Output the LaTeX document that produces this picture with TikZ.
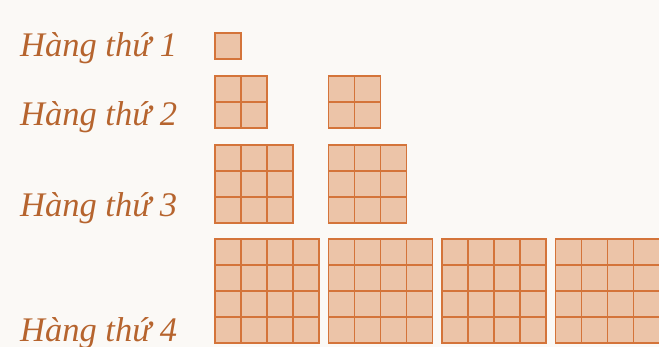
\documentclass[tikz,border=0pt]{standalone}
\usepackage{fontspec}
\setmainfont{Liberation Serif}
\usepackage{xcolor}
\usetikzlibrary{positioning}
\definecolor{labelbrown}{HTML}{B6642E}
\definecolor{tilefill}{HTML}{ECC4A8}
\definecolor{tileline}{HTML}{D4743A}
\definecolor{paperwhite}{HTML}{FBF9F6}

\begin{document}
\begin{tikzpicture}[x=1pt, y=1pt,
  rowlabel/.style={anchor=base west, inner sep=0pt, text=labelbrown,
    font=\fontsize{34.5}{40}\selectfont\itshape},
  tilegrid/.style={draw=tileline, line width=1.2pt}]
  % --- Page ---
  \fill[paperwhite] (0,0) rectangle (659,347);
  \useasboundingbox (0,0) rectangle (659,347);

  % --- Row labels ---
  \node[rowlabel] (row1) at (20,290) {Hàng thứ 1};
  \node[rowlabel] (row2) at (20,221) {Hàng thứ 2};
  \node[rowlabel] (row3) at (20,130) {Hàng thứ 3};
  \node[rowlabel] (row4) at (20,5) {Hàng thứ 4};

  % --- Squares: size / bottom / count ---
  \foreach \n/\ybot/\cnt in {1/288/1, 2/219/2, 3/124/2, 4/4/4} {
    \foreach \k in {1,...,\cnt} {
      \pgfmathsetmacro{\xl}{215+113.5*(\k-1)}
      \begin{scope}[shift={(\xl,\ybot)}]
        \fill[tilefill] (0,0) rectangle (26*\n,26*\n);
        \draw[tilegrid] (0,0) grid[step=26] (26*\n,26*\n);
        \draw[tilegrid] (0,0) rectangle (26*\n,26*\n);
      \end{scope}
    }
  }
\end{tikzpicture}
\end{document}
